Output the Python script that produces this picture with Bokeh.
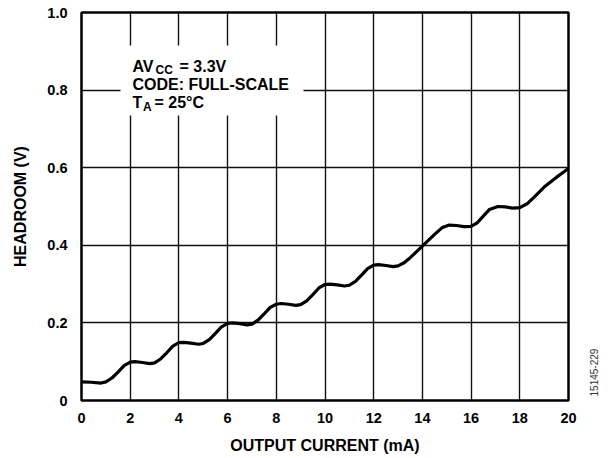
import math
from bokeh.plotting import figure
from bokeh.layouts import row
from bokeh.models import Range1d, FixedTicker, BoxAnnotation, Label
from bokeh.embed import file_html
from bokeh.resources import INLINE

# ---- data ----
x_ma = [0, 0.4, 0.8, 1.0, 1.25, 1.5, 1.75, 2.0, 2.2, 2.5, 2.8, 3.0, 3.25, 3.5, 3.75,
        4.0, 4.2, 4.5, 4.8, 5.0, 5.25, 5.5, 5.75, 6.0, 6.2, 6.5, 6.8, 7.0, 7.25, 7.5,
        7.75, 8.0, 8.2, 8.5, 8.8, 9.0, 9.25, 9.5, 9.75, 10.0, 10.2, 10.5, 10.8, 11.0,
        11.25, 11.5, 11.75, 12.0, 12.2, 12.5, 12.8, 13.0, 13.25, 13.5, 14.0, 14.5,
        14.8, 15.1, 15.4, 15.7, 16.0, 16.25, 16.5, 16.75, 17.1, 17.4, 17.7, 18.0,
        18.3, 18.6, 19.0, 19.5, 20.0]
headroom_v = [0.048, 0.047, 0.045, 0.048, 0.058, 0.073, 0.090, 0.099, 0.100, 0.098,
              0.095, 0.097, 0.107, 0.123, 0.140, 0.149, 0.150, 0.148, 0.145, 0.147,
              0.157, 0.173, 0.190, 0.199, 0.200, 0.198, 0.195, 0.197, 0.207, 0.223,
              0.240, 0.248, 0.250, 0.248, 0.245, 0.247, 0.257, 0.273, 0.290, 0.299,
              0.300, 0.298, 0.295, 0.297, 0.307, 0.323, 0.340, 0.349, 0.350, 0.348,
              0.345, 0.347, 0.355, 0.368, 0.398, 0.428, 0.445, 0.452, 0.451, 0.448,
              0.449, 0.458, 0.475, 0.492, 0.500, 0.499, 0.496, 0.497, 0.507, 0.525,
              0.550, 0.575, 0.598]

x_ticks = [0, 2, 4, 6, 8, 10, 12, 14, 16, 18, 20]
y_ticks = [0, 0.2, 0.4, 0.6, 0.8, 1.0]
y_tick_labels = ["0", "0.2", "0.4", "0.6", "0.8", "1.0"]

x_title = "OUTPUT CURRENT (mA)"
y_title = "HEADROOM (V)"
figure_id = "15145-229"

# ---- layout ----
W, H = 610, 458
SIDE_W = 25
MAIN_W = W - SIDE_W
FL, FR, FT, FB = 81, 568, 12, 400
X0, X1, Y0, Y1 = 0, 20, 0, 1.0
FONT = "Liberation Sans"


def px2x(px):
    return X0 + (px - FL) / (FR - FL) * (X1 - X0)


def px2y(py):
    return Y0 + (FB - py) / (FB - FT) * (Y1 - Y0)


p = figure(width=MAIN_W, height=H, output_backend="svg", toolbar_location=None,
           x_range=Range1d(X0, X1), y_range=Range1d(Y0, Y1),
           min_border_left=FL, min_border_right=MAIN_W - FR,
           min_border_top=FT, min_border_bottom=H - FB)
p.background_fill_color = "white"
p.border_fill_color = "white"
p.outline_line_color = "black"
p.outline_line_width = 2.5

p.xaxis.ticker = FixedTicker(ticks=x_ticks)
p.yaxis.ticker = FixedTicker(ticks=y_ticks)
p.yaxis.major_label_overrides = {t: l for t, l in zip(y_ticks, y_tick_labels)}
p.xgrid.ticker = FixedTicker(ticks=x_ticks)
p.ygrid.ticker = FixedTicker(ticks=y_ticks)
p.grid.grid_line_color = "#111111"
p.grid.grid_line_width = 1.4

for ax in (p.xaxis, p.yaxis):
    ax.axis_line_color = None
    ax.major_tick_line_color = None
    ax.minor_tick_line_color = None
    ax.major_tick_out = 0
    ax.major_tick_in = 0
    ax.major_label_text_font = FONT
    ax.major_label_text_font_style = "bold"
    ax.major_label_text_font_size = "14.5px"
    ax.major_label_text_color = "black"
    ax.axis_label_text_font = FONT
    ax.axis_label_text_font_style = "bold"
    ax.axis_label_text_font_size = "16px"
    ax.axis_label_text_color = "black"

p.xaxis.axis_label = x_title
p.yaxis.axis_label = y_title
p.xaxis.major_label_standoff = 12
p.yaxis.major_label_standoff = 14
p.xaxis.axis_label_standoff = 11
p.yaxis.axis_label_standoff = 15

# curve
p.line(x_ma, headroom_v, line_width=3.2, line_color="black",
       line_join="round", line_cap="round")

# white box behind the conditions text
p.add_layout(BoxAnnotation(left=px2x(120), right=px2x(303), top=px2y(45), bottom=px2y(115),
                           fill_color="white", fill_alpha=1.0, line_color=None))


def lab(px, py, text, size="16px", style="bold"):
    p.add_layout(Label(x=px2x(px), y=px2y(py), text=text, text_font=FONT,
                       text_font_style=style, text_font_size=size, text_color="black",
                       text_align="left", text_baseline="alphabetic"))


lab(132, 65.5, "AV")
lab(155, 69, "CC", size="12px")
lab(179, 65.5, "= 3.3V")
lab(132, 84, "CODE: FULL-SCALE")
lab(132, 102, "T")
lab(142.5, 106, "A", size="12px")
lab(154, 102, "= 25°C")

# narrow side strip carrying the vertical figure id (y measured upward from bottom)
side = figure(width=SIDE_W, height=H, output_backend="svg", toolbar_location=None,
              x_range=Range1d(0, SIDE_W), y_range=Range1d(0, H),
              x_axis_type=None, y_axis_type=None,
              min_border_left=0, min_border_right=0, min_border_top=0, min_border_bottom=0)
side.outline_line_color = None
side.background_fill_color = "white"
side.border_fill_color = "white"
side.grid.visible = False
side.add_layout(Label(x=593 - MAIN_W, y=H - 425, text=figure_id, angle=math.pi / 2,
                      text_font=FONT, text_font_size="10px", text_color="#333333",
                      text_align="center", text_baseline="middle"))

layout = row(p, side, spacing=0)
open("out.html", "w").write(file_html(layout, INLINE))
